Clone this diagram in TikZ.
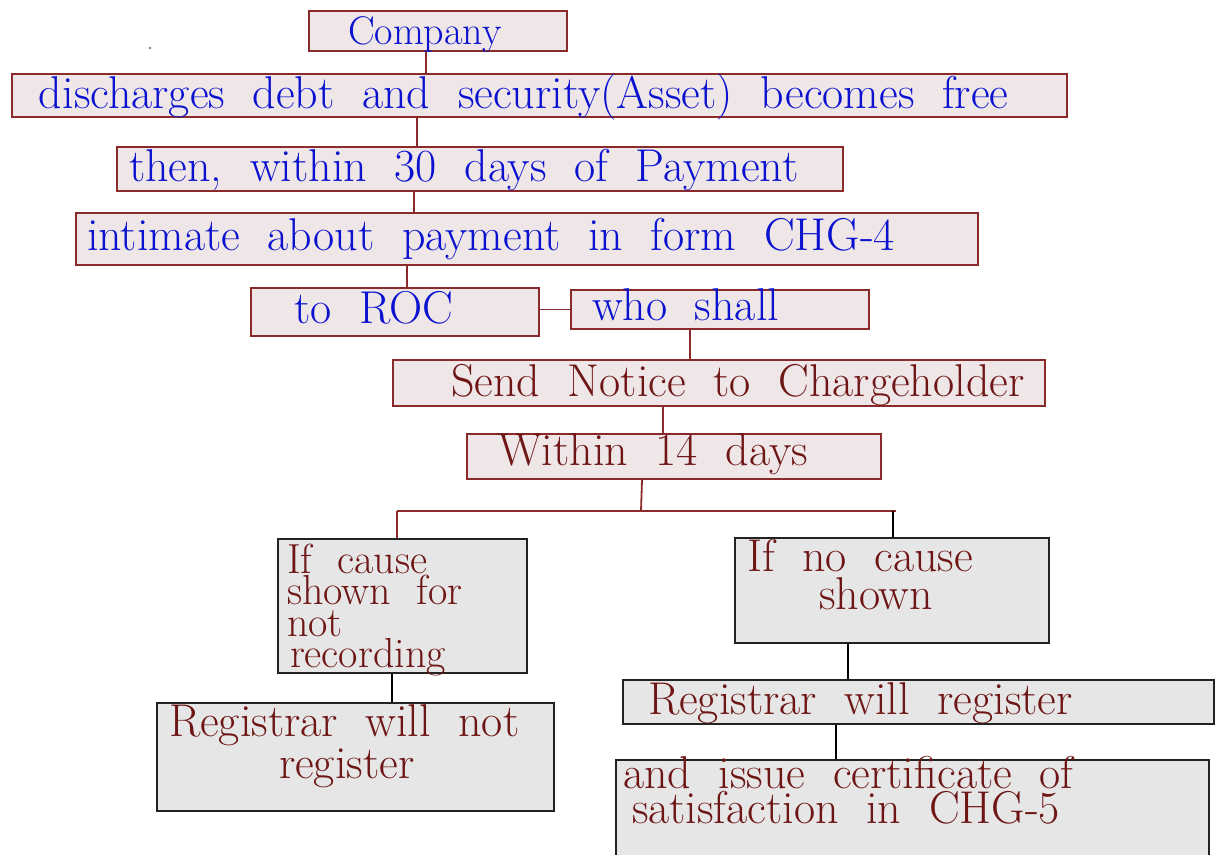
\documentclass[tikz,border=0pt]{standalone}
\usetikzlibrary{calc}
\definecolor{boxpink}{HTML}{EFE6E8}
\definecolor{boxred}{HTML}{8A2A2A}
\definecolor{boxgrey}{HTML}{E6E6E6}
\definecolor{boxline}{HTML}{222222}
\definecolor{inkblue}{HTML}{0B12CF}
\definecolor{inkred}{HTML}{6E1515}
\newcommand{\hand}[2]{\fontsize{#1}{#2}\selectfont\lineskiplimit=-50pt}

\begin{document}
\begin{tikzpicture}[
    x=1pt, y=-1pt,
    pinkbox/.style={draw=boxred, fill=boxpink, line width=2pt, inner sep=0pt,
        anchor=north west, align=left, font=\hand{46}{38}},
    greybox/.style={draw=boxline, fill=boxgrey, line width=2pt, inner sep=0pt,
        anchor=north west, align=left, font=\hand{46}{38}},
    lpad/.style={execute at begin node={\spaceskip=0.6em plus 0.1em\relax\hspace*{#1pt}}},
    link/.style={draw=boxred, line width=1.8pt},
    blink/.style={draw=black, line width=1.8pt}]

    \useasboundingbox (0,0) rectangle (1215,854);

    % ================= top chain, blue ink =================
    \node[pinkbox, text=inkblue, font=\hand{40}{38}, lpad=39,
        text width=258pt, text height=33pt, text depth=7pt] (company) at (308,10) {Company};
    \node[pinkbox, text=inkblue, lpad=27,
        text width=1055pt, text height=34pt, text depth=9pt] (discharge) at (11,73)
        {discharges debt and security(Asset) becomes free};
    \node[pinkbox, text=inkblue, lpad=12,
        text width=726pt, text height=34pt, text depth=10pt] (then) at (116,146)
        {then, within 30 days of Payment};
    \node[pinkbox, text=inkblue, lpad=11,
        text width=902pt, text height=37pt, text depth=15pt] (intimate) at (75,212)
        {intimate about payment in form CHG-4};
    \node[pinkbox, text=inkblue, lpad=43,
        text width=288pt, text height=35pt, text depth=13pt] (roc) at (250,287) {to ROC};
    \node[pinkbox, text=inkblue, lpad=21,
        text width=298pt, text height=30pt, text depth=9pt] (whoshall) at (570,289) {who shall};

    % ================= notice, red ink =================
    \node[pinkbox, text=inkred, lpad=58,
        text width=652pt, text height=36pt, text depth=10pt] (notice) at (392,359)
        {Send Notice to Chargeholder};
    \node[pinkbox, text=inkred, lpad=31,
        text width=414pt, text height=31pt, text depth=14pt] (within) at (466,433)
        {Within 14 days};

    % ================= the two outcomes =================
    \node[greybox, text=inkred, font=\hand{42}{31.5}, lpad=9,
        text width=249pt, text height=34pt, text depth=100pt] (cause) at (277,538)
        {If cause\\\hspace*{9pt}shown for\\\hspace*{9pt}not\\\hspace*{12pt}recording};
    \node[greybox, text=inkred, lpad=12,
        text width=314pt, text height=33pt, text depth=72pt] (nocause) at (734,537)
        {If no cause\\\hspace*{84pt}shown};
    \node[greybox, text=inkred, font=\hand{46}{42}, lpad=12,
        text width=397pt, text height=33pt, text depth=75pt] (notreg) at (156,702)
        {Registrar will not\\\hspace*{122pt}register};
    \node[greybox, text=inkred, lpad=25,
        text width=591pt, text height=34pt, text depth=10pt] (reg) at (622,679)
        {Registrar will register};
    \node[greybox, text=inkred, font=\hand{46}{35}, lpad=7,
        text width=593pt, text height=28pt, text depth=92pt] (cert) at (615,759)
        {and issue certificate of\\\hspace*{16pt}satisfaction in CHG-5};

    % connectors down the chain -
    \draw[link] ([xshift=-12pt]company.south) -- ([xshift=-12pt]company.south |- discharge.north);
    \draw[link] ([xshift=-122.5pt]discharge.south) -- ([xshift=-122.5pt]discharge.south |- then.north);
    \draw[link] ([xshift=-66pt]then.south) -- ([xshift=-66pt]then.south |- intimate.north);
    \draw[link] ([xshift=-120pt]intimate.south) -- ([xshift=-120pt]intimate.south |- roc.north);
    \draw[link] (whoshall.west -| roc.east) -- (whoshall.west);
    \draw[link] ([xshift=-30pt]whoshall.south) -- ([xshift=-30pt]whoshall.south |- notice.north);
    \draw[link] ([xshift=-56pt]notice.south) -- ([xshift=-56pt]notice.south |- within.north);

    % the fork into the two cases -
    \coordinate (fork) at (641,511);
    \coordinate (forkl) at (397,511);
    \coordinate (forkr) at (893,511);
    \draw[link] ([xshift=-32pt]within.south) -- (fork);
    \draw[link] (forkl) -- ([xshift=3pt]forkr);
    \draw[link] (forkl) -- (forkl |- cause.north);
    \draw[blink] (forkr) -- (forkr |- nocause.north);

    % results -
    \draw[blink] ([xshift=-10.5pt]cause.south) -- ([xshift=-10.5pt]cause.south |- notreg.north);
    \draw[blink] ([xshift=-44pt]nocause.south) -- ([xshift=-44pt]nocause.south |- reg.north);
    \draw[blink] ([xshift=-82.5pt]reg.south) -- ([xshift=-82.5pt]reg.south |- cert.north);

    \fill (150,48) circle (0.8);
\end{tikzpicture}
\end{document}
